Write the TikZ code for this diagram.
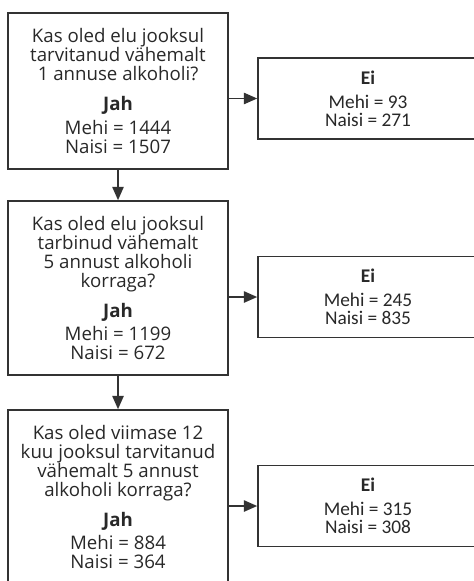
\documentclass[tikz,border=0pt]{standalone}
\usepackage{fontspec}
\setmainfont{Open Sans}
\newfontfamily\calfont{Carlito}
\usetikzlibrary{arrows.meta}

\definecolor{frame}{RGB}{51,51,51}
\definecolor{ink}{RGB}{40,40,40}

\tikzset{every picture/.style={line width=1.2pt}}
\tikzset{
  askbox/.style={draw=frame, text=ink, align=center, inner sep=0pt,
    minimum width=165pt, font=\fontsize{14}{14.25}\selectfont},
  eibox/.style={draw=frame, text=ink, align=center, inner sep=0pt,
    minimum width=165pt, minimum height=60.75pt,
    font=\calfont\fontsize{14.5}{13.5}\selectfont},
  flow/.style={draw=frame, -{Triangle[length=10pt,width=8.5pt]}}
}

\begin{document}
\begin{tikzpicture}[x=0.75pt,y=0.75pt,yscale=-1,xscale=1]
\useasboundingbox (0,0) rectangle (474,581);
\clip (0,0) rectangle (474,581);

% Question boxes (left column)
\node [askbox, minimum height=117pt] (q1) at (118,91) {Kas oled elu jooksul\\tarvitanud vähemalt\\1 annuse alkoholi?\\[8pt]\textbf{Jah}\\[3.5pt]Mehi = 1444\\Naisi = 1507};
\node [askbox, minimum height=130.5pt] (q2) at (118,288) {Kas oled elu jooksul\\tarbinud vähemalt\\5 annust alkoholi\\korraga?\\[8pt]\textbf{Jah}\\[3.5pt]Mehi = 1199\\Naisi = 672};
\node [askbox, minimum height=130.5pt] (q3) at (118,497) {Kas oled viimase 12\\kuu jooksul tarvitanud\\vähemalt 5 annust\\alkoholi korraga?\\[8pt]\textbf{Jah}\\[3.5pt]Mehi = 884\\Naisi = 364};

% Answer boxes (right column)
\node [eibox] (e1) at (368,98.5) {\textbf{Ei}\\[4.5pt]Mehi = 93\\Naisi = 271};
\node [eibox] (e2) at (368,297) {\textbf{Ei}\\[4.5pt]Mehi = 245\\Naisi = 835};
\node [eibox] (e3) at (368,506) {\textbf{Ei}\\[4.5pt]Mehi = 315\\Naisi = 308};

% Arrows
\draw [flow] (q1.south) -- (q2.north);
\draw [flow] (q2.south) -- (q3.north);
\draw [flow] (q1.east |- e1.west) -- (e1.west);
\draw [flow] (q2.east |- e2.west) -- (e2.west);
\draw [flow] (q3.east |- e3.west) -- (e3.west);

\end{tikzpicture}
\end{document}
